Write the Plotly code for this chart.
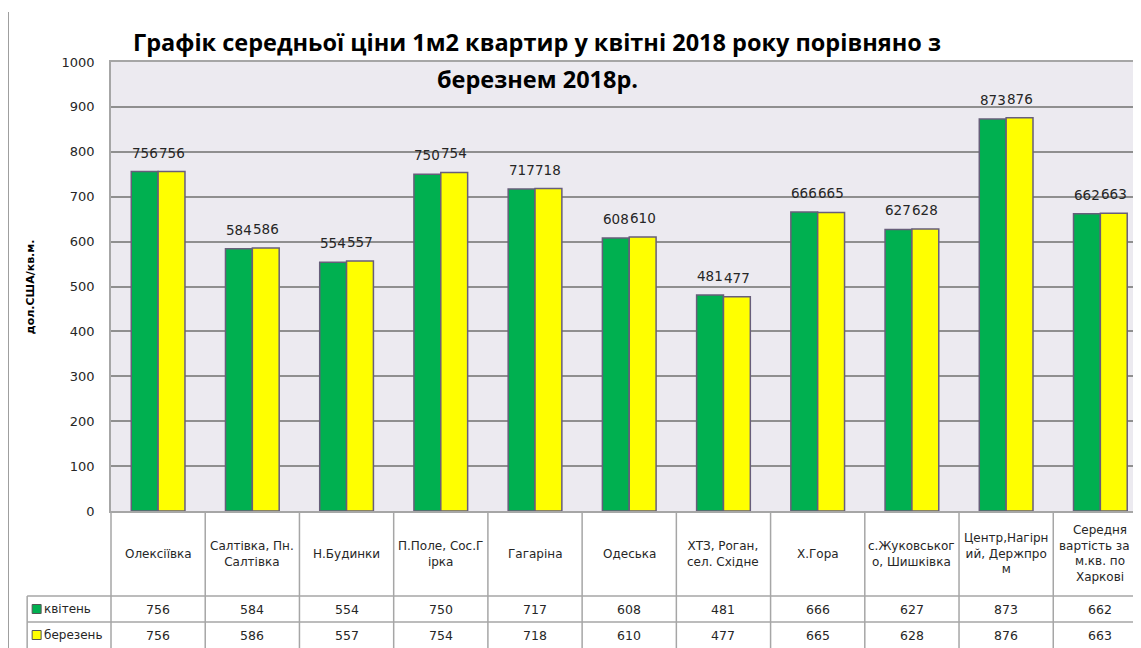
import plotly.graph_objects as go

categories = ["Олексіївка", "Салтівка, Пн.<br>Салтівка", "Н.Будинки", "П.Поле, Сос.Г<br>ірка",
              "Гагаріна", "Одеська", "ХТЗ, Роган,<br>сел. Східне", "Х.Гора",
              "с.Жуковськог<br>о, Шишківка", "Центр,Нагірн<br>ий, Держпро<br>м",
              "Середня<br>вартість за 1<br>м.кв. по<br>Харкові"]
april = [756, 584, 554, 750, 717, 608, 481, 666, 627, 873, 662]
march = [756, 586, 557, 754, 718, 610, 477, 665, 628, 876, 663]
series_names = ["квітень", "березень"]
y_ticks = [0, 100, 200, 300, 400, 500, 600, 700, 800, 900, 1000]

GREEN = "#00B050"
YELLOW = "#FFFF00"
OUTLINE = "#675E7A"
GRID = "#8F8F8F"
TABLE = "#A6A6A6"
TXT = "#262626"
FONT = "DejaVu Sans"

# page has an 8px body margin; work in screen pixels and convert
OFF = 8
W, H = 1141, 648
PL, PT, PB, PR = 111, 62, 511, 1141          # plot area in screen pixels
L, T = PL - OFF, PT - OFF
B = H - (PB - OFF)
R = W - (PR - OFF)
pw, ph = PR - PL, PB - PT
XMAX = 10.41
BARGAP = 0.43

def px_x(px):
    return (px - PL) / pw

def px_y(py):
    return (PB - py) / ph

def cat_x(i):
    return (i + 0.5) / (XMAX + 0.5)

idx = list(range(len(categories)))
cat_px = pw / (XMAX + 0.5)
half_bar = cat_px * (1 - BARGAP) / 4   # centre offset of each bar in a pair

fig = go.Figure()
for name, vals, col in [(series_names[0], april, GREEN), (series_names[1], march, YELLOW)]:
    fig.add_trace(go.Bar(
        x=idx, y=vals, name=name,
        marker=dict(color=col, line=dict(color=OUTLINE, width=1.5)),
    ))

shapes = []
shapes.append(dict(type="line", xref="paper", yref="paper", x0=px_x(8), x1=px_x(8),
                   y0=px_y(12), y1=px_y(660), line=dict(color="#9A9A9A", width=1.5)))
for i in range(len(categories) + 1):
    xp = cat_x(i - 0.5)
    if xp > 1.0:
        continue
    shapes.append(dict(type="line", xref="paper", yref="paper", x0=xp, x1=xp,
                       y0=0, y1=px_y(660), line=dict(color=TABLE, width=1.5)))
shapes.append(dict(type="line", xref="paper", yref="paper", x0=px_x(27), x1=px_x(27),
                   y0=px_y(596), y1=px_y(660), line=dict(color=TABLE, width=1.5)))
for py in [596, 622]:
    shapes.append(dict(type="line", xref="paper", yref="paper", x0=px_x(27), x1=1.0,
                       y0=px_y(py), y1=px_y(py), line=dict(color=TABLE, width=1.5)))
for py, col in [(609, GREEN), (635, YELLOW)]:
    shapes.append(dict(type="rect", xref="paper", yref="paper", x0=px_x(32), x1=px_x(41),
                       y0=px_y(py - 4.5), y1=px_y(py + 4.5), fillcolor=col,
                       line=dict(color="#555555", width=1)))

annotations = []
annotations.append(dict(text="<b>Графік середньої ціни 1м2 квартир у квітні 2018 року порівняно з</b>",
                        xref="paper", yref="paper", x=px_x(538), y=px_y(42), showarrow=False,
                        xanchor="center", yanchor="middle",
                        font=dict(family="Open Sans", size=23.5, color="#000000")))
annotations.append(dict(text="<b>березнем 2018р.</b>",
                        xref="paper", yref="paper", x=px_x(538), y=px_y(79), showarrow=False,
                        xanchor="center", yanchor="middle",
                        font=dict(family="Open Sans", size=23.5, color="#000000")))
annotations.append(dict(text="<b>дол.США/кв.м.</b>", xref="paper", yref="paper",
                        x=px_x(22), y=0.5, textangle=-90, showarrow=False,
                        font=dict(family=FONT, size=11, color="#000000")))
# data labels above bars
for vals, sign in [(april, -1), (march, 1)]:
    for i, v in enumerate(vals):
        annotations.append(dict(text=str(v), xref="x", yref="y", x=i, y=v,
                                xshift=sign * half_bar, yshift=9, showarrow=False,
                                xanchor="center", yanchor="bottom",
                                font=dict(family=FONT, size=13.5, color=TXT)))
for i, c in enumerate(categories):
    annotations.append(dict(text=c, xref="x", yref="paper", x=i, y=px_y(553.5),
                            showarrow=False, xanchor="center", yanchor="middle",
                            font=dict(family=FONT, size=12, color=TXT)))
    annotations.append(dict(text=str(april[i]), xref="x", yref="paper", x=i, y=px_y(609),
                            showarrow=False, xanchor="center", yanchor="middle",
                            font=dict(family=FONT, size=12.5, color=TXT)))
    annotations.append(dict(text=str(march[i]), xref="x", yref="paper", x=i, y=px_y(635),
                            showarrow=False, xanchor="center", yanchor="middle",
                            font=dict(family=FONT, size=12.5, color=TXT)))
for py, nm in [(609, series_names[0]), (635, series_names[1])]:
    annotations.append(dict(text=nm, xref="paper", yref="paper", x=px_x(42), y=px_y(py),
                            showarrow=False, xanchor="left", yanchor="middle",
                            font=dict(family=FONT, size=12, color=TXT)))

fig.update_layout(
    width=W, height=H,
    margin=dict(l=L, r=R, t=T, b=B, pad=0),
    paper_bgcolor="white", plot_bgcolor="#ECEAF0",
    barmode="group", bargap=BARGAP, bargroupgap=0,
    showlegend=False,
    shapes=shapes, annotations=annotations,
    font=dict(family=FONT, color=TXT),
)
fig.update_xaxes(range=[-0.5, XMAX], showticklabels=False, showgrid=False, zeroline=False,
                 showline=True, linecolor=TABLE, linewidth=1.5, mirror=True, fixedrange=True)
fig.update_yaxes(range=[0, 1000], tickvals=y_ticks, showgrid=True, gridcolor=GRID, gridwidth=1.5,
                 zeroline=False, showline=True, linecolor=TABLE, linewidth=1.5, mirror=True,
                 ticks="", ticklabelstandoff=12, tickfont=dict(family=FONT, size=13, color=TXT))

fig.write_html("out.html")
